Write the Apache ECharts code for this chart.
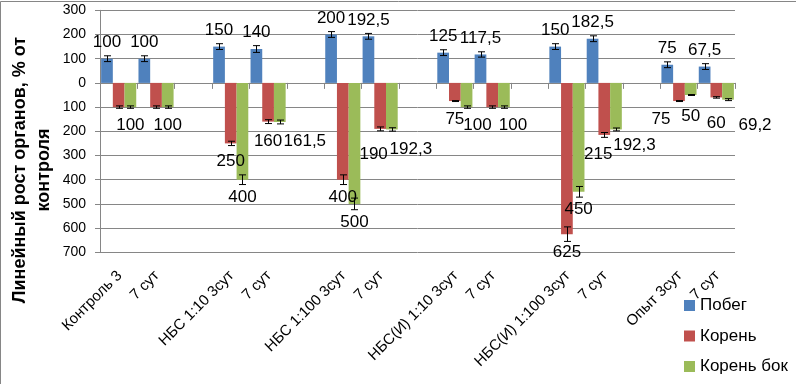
<!DOCTYPE html>
<html><head><meta charset="utf-8">
<script src="https://cdn.jsdelivr.net/npm/echarts@6/dist/echarts.min.js"></script>
<style>html,body{margin:0;padding:0;background:#fff}#c{width:796px;height:384px}</style>
</head><body><div id="c"></div>
<script>
const categories = ['Контроль 3','7 сут','','НБС 1:10 3сут','7 сут','','НБС 1:100 3сут','7 сут','','НБС(И) 1:10 3сут','7 сут','','НБС(И) 1:100 3сут','7 сут','','Опыт 3сут','7 сут'];
const seriesNames = ['Побег','Корень','Корень бок'];
// values as read (root values are plotted downward)
const shootVals   = [100,100,null,150,140,null,200,192.5,null,125,117.5,null,150,182.5,null,75,67.5];
const rootVals    = [100,100,null,250,160,null,400,190,null,75,100,null,625,215,null,75,60];
const latRootVals = [100,100,null,400,161.5,null,500,192.3,null,100,100,null,450,192.3,null,50,69.2];
const shootErr    = [12,12,null,12,14,null,12,12,null,12,11,null,12,12,null,12,12];
const rootErr     = [5,5,null,9,8,null,20,8,null,2,5,null,30,10,null,2,3];
const latRootErr  = [5,5,null,20,8,null,24,7,null,5,5,null,22,6,null,2,4];
const yTicks = [300,200,100,0,100,200,300,400,500,600,700];

// label placement tweaks (style only)
const rootLabelShift = {4:[0,1.5],7:[-6.5,7],13:[-6,1.5],15:[-18,0],16:[0,8]};
const rootLabelHidden = {0:true,1:true,10:true};
const latLabelShift = {4:[25,1],7:[19,2],9:[11,0],10:[9,0],13:[18.5,-2],15:[0,3.5],16:[27,8]};

const colors = ['#4F81BD','#C0504D','#9BBB59'];
const fmt = p => String(Math.abs(p.value)).replace('.', ',');
const FONT = 'Liberation Sans';

function buildNeg(vals, shifts, hidden){
  return vals.map((v,i)=>{
    if (v==null) return null;
    const item = {value:-v};
    if (hidden && hidden[i]) item.label = {show:false};
    else if (shifts[i]) item.label = {offset: shifts[i]};
    return item;
  });
}
function errData(vals, errs, sign){
  const out=[];
  vals.forEach((v,i)=>{ if(v!=null) out.push([i, sign*v, errs[i]]); });
  return out;
}
function errSeries(k, vals, errs, sign){
  return {
    type:'custom', xAxisIndex:0, yAxisIndex:0, z:5, silent:true,
    data: errData(vals, errs, sign),
    encode:{x:0,y:1},
    renderItem:function(params, api){
      const i = api.value(0), v = api.value(1), e = api.value(2);
      const c = api.coord([i, v]);
      const band = api.size([1,0])[0];
      const bw = band*0.94/3;
      const x = Math.round(c[0] + (k-1)*bw) + 0.5;
      const yt = api.coord([i, v+e])[1], yb = api.coord([i, v-e])[1];
      const cap = 3.5;
      const st = {stroke:'#000', lineWidth:1};
      return {type:'group', children:[
        {type:'line', shape:{x1:x,y1:yt,x2:x,y2:yb}, style:st},
        {type:'line', shape:{x1:x-cap,y1:yt,x2:x+cap,y2:yt}, style:st},
        {type:'line', shape:{x1:x-cap,y1:yb,x2:x+cap,y2:yb}, style:st}
      ]};
    }
  };
}

const chart = echarts.init(document.getElementById('c'), null, {renderer:'canvas'});
const gridLine = '#868686';
chart.setOption({
  animation:false,
  backgroundColor:'#fff',
  color: colors,
  textStyle:{fontFamily:FONT},
  grid:[
    {left:100, right:61, top:10.3, bottom:131.7, containLabel:false},
    {left:101, right:60, top:10.3, bottom:131.7, containLabel:false}
  ],
  xAxis:[
    {type:'category', gridIndex:0, data:categories, position:'bottom',
     axisLine:{show:true, onZero:true, lineStyle:{color:gridLine}},
     axisTick:{show:true, interval:0, length:6, lineStyle:{color:gridLine}},
     axisLabel:{show:false}, splitLine:{show:false}},
    {type:'category', gridIndex:1, data:categories, position:'bottom',
     axisLine:{show:false, onZero:false}, axisTick:{show:false},
     axisLabel:{show:true, interval:0, rotate:45, margin:21, fontSize:15, color:'#000', fontFamily:FONT}}
  ],
  yAxis:[
    {type:'value', gridIndex:0, min:-700, max:300, interval:100,
     axisLine:{show:true, lineStyle:{color:gridLine}},
     axisTick:{show:true, length:5, lineStyle:{color:gridLine}},
     axisLabel:{margin:14, fontSize:14, color:'#000', fontFamily:FONT,
       formatter: v => String(yTicks[Math.round((300 - v)/100)])},
     splitLine:{show:true, lineStyle:{color:gridLine}}},
    {type:'value', gridIndex:1, min:-700, max:300, show:false}
  ],
  legend:{
    orient:'vertical', left:684, top:297, padding:0,
    itemWidth:11, itemHeight:11, itemGap:13.5, icon:'rect',
    data: seriesNames,
    textStyle:{fontSize:17, color:'#000', fontFamily:FONT}
  },
  graphic:[
    {type:'rect', shape:{x:0.5, y:1.5, width:900, height:600}, style:{fill:'none', stroke:gridLine, lineWidth:1}, silent:true, z:-10},
    {type:'text', x:32, y:170, rotation:Math.PI/2,
     style:{text:'Линейный рост органов, % от\nконтроля', align:'center', verticalAlign:'middle',
       font:'bold 18px "Liberation Sans"', lineHeight:24, fill:'#000'}}
  ],
  series:[
    {name:seriesNames[0], type:'bar', xAxisIndex:0, yAxisIndex:0, barGap:'0%', barCategoryGap:'6%',
     data: shootVals,
     label:{show:true, position:'top', distance:8, fontSize:17, color:'#000', fontFamily:FONT, formatter:fmt}},
    {name:seriesNames[1], type:'bar', xAxisIndex:0, yAxisIndex:0, barGap:'0%', barCategoryGap:'6%',
     data: buildNeg(rootVals, rootLabelShift, rootLabelHidden),
     label:{show:true, position:'bottom', distance:9.5, fontSize:17, color:'#000', fontFamily:FONT, formatter:fmt}},
    {name:seriesNames[2], type:'bar', xAxisIndex:0, yAxisIndex:0, barGap:'0%', barCategoryGap:'6%',
     data: buildNeg(latRootVals, latLabelShift, null),
     label:{show:true, position:'bottom', distance:9.5, fontSize:17, color:'#000', fontFamily:FONT, formatter:fmt}},
    errSeries(0, shootVals, shootErr, 1),
    errSeries(1, rootVals, rootErr, -1),
    errSeries(2, latRootVals, latRootErr, -1)
  ]
});
</script></body></html>
